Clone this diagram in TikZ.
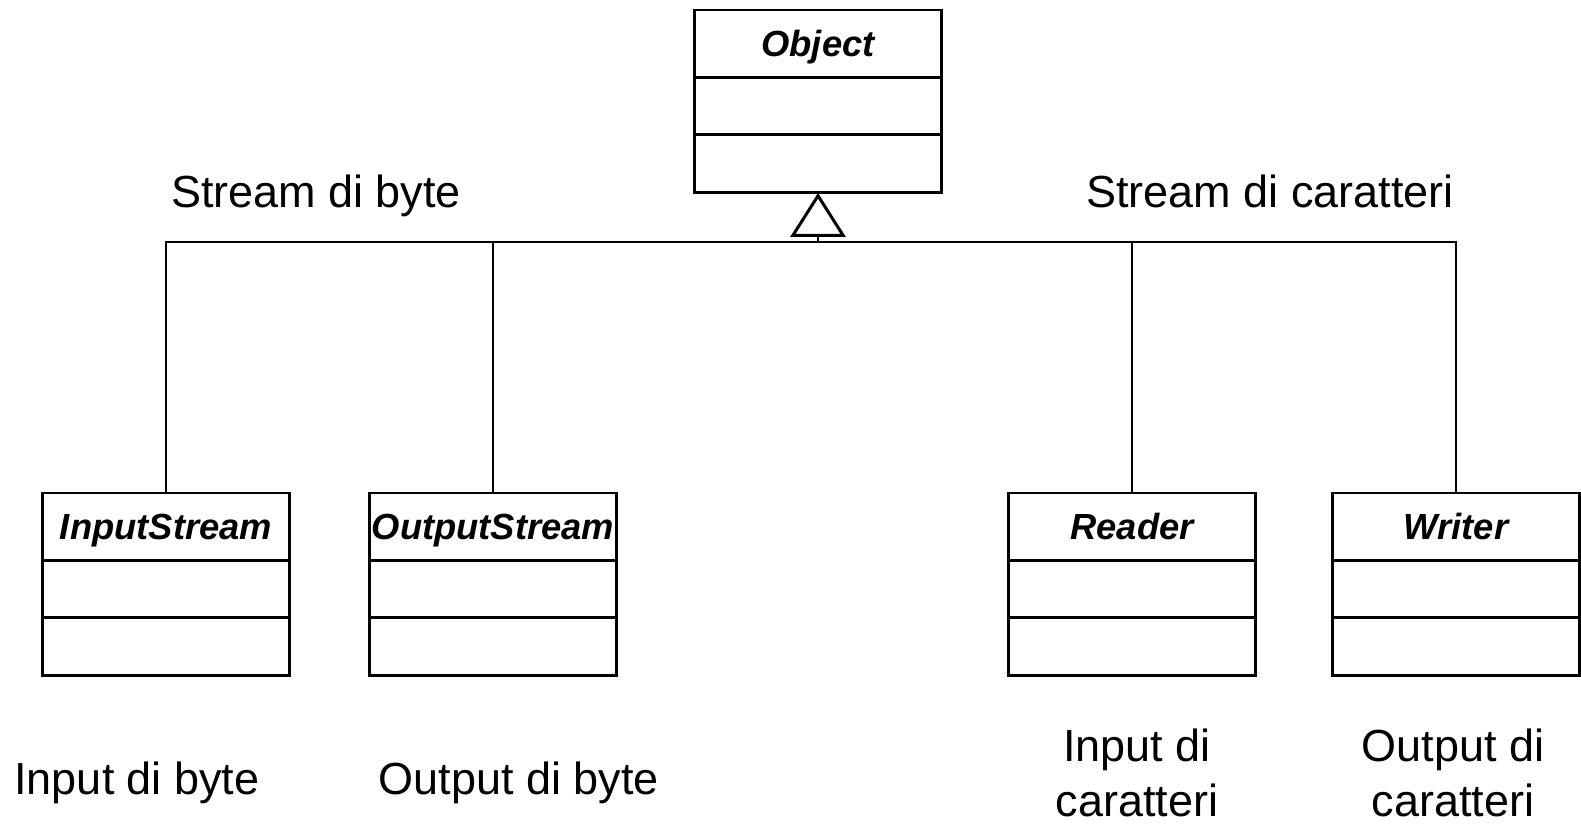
\documentclass[tikz,border=0pt]{standalone}
\usepackage{fontspec}
\setmainfont{Liberation Sans}
\usetikzlibrary{shapes.multipart,arrows.meta}

\newcommand{\classname}[1]{\fontsize{20.7}{25}\selectfont\bfseries\itshape
  \rule[-0.39cm]{0pt}{1.29cm}#1\nodepart{two}\rule{0pt}{1.09cm}\nodepart{three}\rule{0pt}{1.10cm}}

\begin{document}
\begin{tikzpicture}[x=0.02cm,y=-0.02cm]
  \useasboundingbox (0,0) rectangle (1581,824);

      \begin{scope}[every node/.style={rectangle split,rectangle split parts=3,draw,
          line width=1.7pt,minimum width=4.94cm,inner xsep=0pt,inner ysep=0pt,
          outer sep=0pt,anchor=north}]
        \node (1) at (818,10)   {\classname{Object}};
        \node (2) at (166,493)  {\classname{InputStream}};
        \node (3) at (493,493)  {\classname{OutputStream}};
        \node (4) at (1132,493) {\classname{Reader}};
        \node (5) at (1456,493) {\classname{Writer}};
      \end{scope}

      \begin{scope}[every node/.style={font=\fontsize{25.6}{31.3}\selectfont,
          align=center,anchor=base,inner sep=0pt}]
        \node (6)  at (316,208)  {Stream di byte};
        \node (7)  at (1270,208) {Stream di caratteri};
        \node (8)  at (137,794)  {Input di byte};
        \node (9)  at (519,794)  {Output di byte};
        \node (10) at (1137,816) {Input di\\caratteri};
        \node (11) at (1453,816) {Output di\\caratteri};
      \end{scope}

      \coordinate (bus) at (818,242);

      \begin{scope}[every path/.style={line width=0.85pt}]
        \draw (2.north) |- (bus) -| (5.north);
        \draw (3.north) -- (3.north |- bus);
        \draw (4.north) -- (4.north |- bus);
        \draw[-{Triangle[open,length=0.88cm,width=1.1cm,line width=1.7pt]}] (bus) -- (1.south);
      \end{scope}

    \end{tikzpicture}
\end{document}
